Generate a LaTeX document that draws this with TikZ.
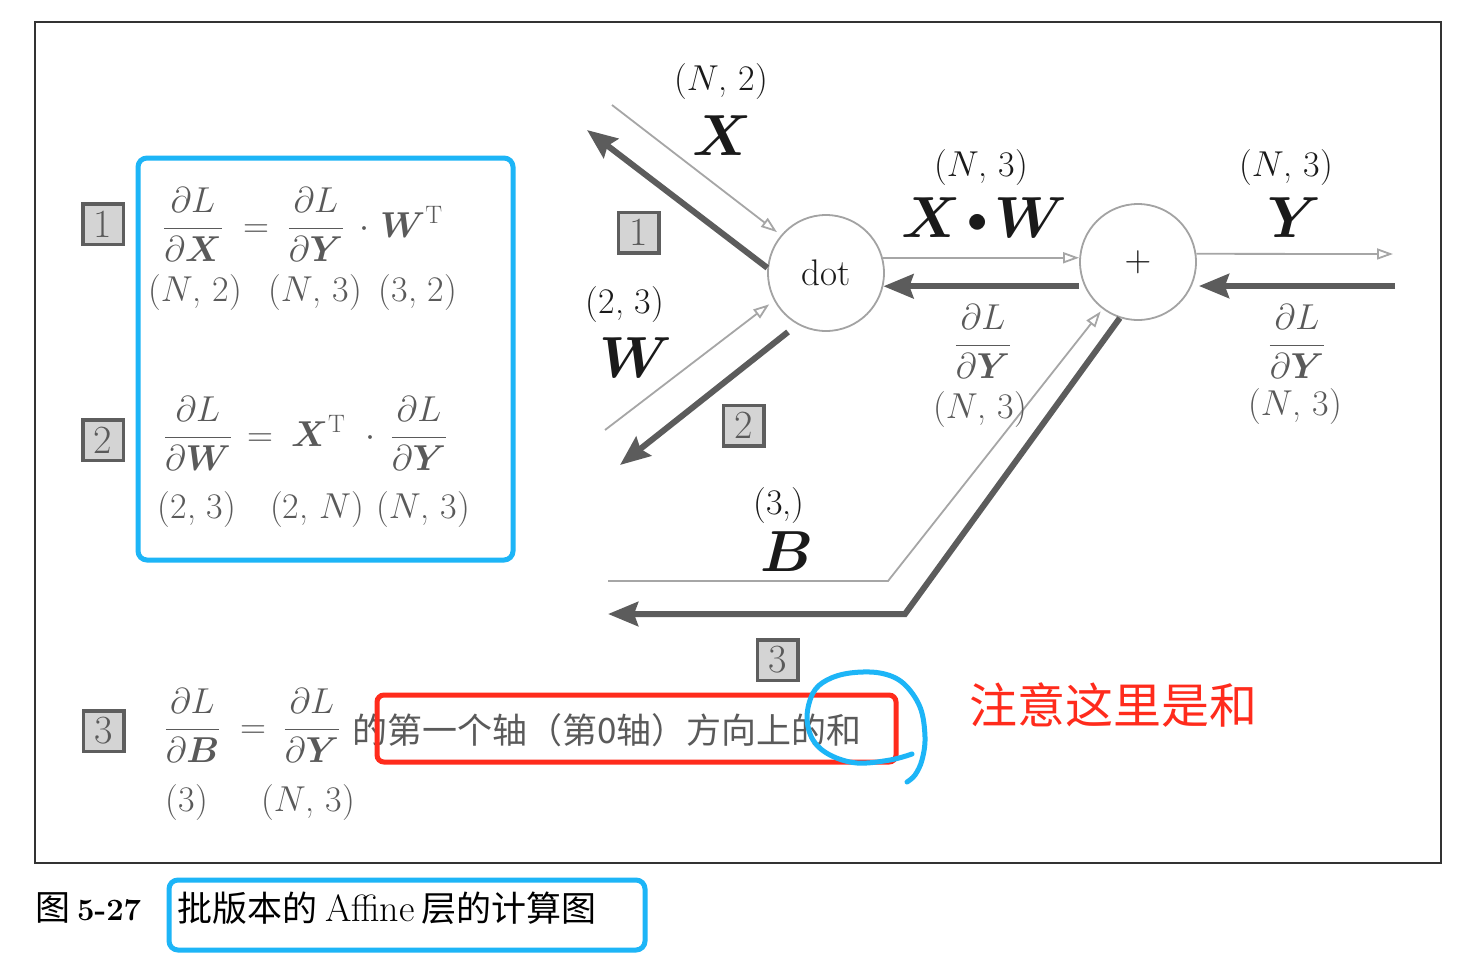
\RequirePackage{fix-cm}
\documentclass[tikz,border=0pt]{standalone}
\usepackage{amsmath,bm}
\usepackage{fontspec}
\newfontfamily\cjk{Noto Sans CJK SC}
\usetikzlibrary{arrows.meta}
\definecolor{eqgray}{HTML}{5A5A5A}
\definecolor{fwdc}{HTML}{A6A6A6}
\definecolor{backc}{HTML}{5C5C5C}
\definecolor{circc}{HTML}{A3A3A3}
\definecolor{boxfill}{HTML}{D4D4D4}
\definecolor{boxline}{HTML}{5E5E5E}
\definecolor{hlblue}{HTML}{1DB5F7}
\definecolor{hlred}{HTML}{FF2B1C}
\definecolor{ink}{HTML}{1A1A1A}
\begin{document}
\begin{tikzpicture}[x=1pt,y=-1pt,
  lbl/.style={inner sep=0pt, font=\fontsize{36}{40}\selectfont, text=ink},
  eq/.style={inner sep=0pt, font=\fontsize{36}{42}\selectfont, text=eqgray},
  shp/.style={inner sep=0pt, font=\fontsize{36}{40}\selectfont, text=eqgray},
  big/.style={inner sep=0pt, font=\fontsize{58}{60}\selectfont, text=ink},
  numbox/.style={draw=boxline, fill=boxfill, line width=3.5pt, minimum width=40.5pt, minimum height=40.5pt, inner sep=0pt, font=\fontsize{40}{42}\selectfont, text=eqgray},
  opnode/.style={circle, draw=circc, line width=1.8pt, minimum size=116pt, inner sep=0pt, font=\fontsize{37}{40}\selectfont, text=ink},
  fwdline/.style={draw=fwdc, line width=1.8pt, -{Triangle[open, length=16pt, width=11pt]}},
  backline/.style={draw=backc, line width=6pt, -{Stealth[length=30pt, width=24pt, inset=4pt]}},
  hl/.style={draw=hlblue, line width=5pt},
]
\useasboundingbox (0,0) rectangle (1480,962);
\fill[white] (0,0) rectangle (1480,962);
\draw[line width=2pt, draw=black!80] (35,22) rectangle (1441,863);

% ---------- graph ----------
\node[opnode] (dot) at (826,273) {dot};
\node[opnode] (plus) at (1138,262) {$+$};

\coordinate (xin) at (612,105);
\coordinate (xout) at (587,130);
\coordinate (win) at (605,430);
\coordinate (wout) at (620,465);
\coordinate (yout) at (1393,254);
\coordinate (yin) at (1395,286);
\coordinate (bin) at (608,581);
\coordinate (bc1) at (888,581);
\coordinate (bc2) at (905,614);
\coordinate (bout) at (608,614);

\draw[fwdline, shorten >=5pt] (xin) -- (dot.140);
\draw[backline] (dot.175) -- (xout);
\draw[fwdline, shorten >=6pt] (win) -- (dot.208);
\draw[backline, shorten <=12pt] (dot.241) -- (wout);
\draw[fwdline] (dot.15) -- (plus.west |- dot.15);
\draw[backline] (plus.west |- dot.-13) -- (dot.-13);
\draw[fwdline] (plus.8) -- (yout);
\draw[backline, shorten >=2pt] (yin) -- (plus.east |- yin);
\draw[fwdline, shorten >=3pt] (bin) -- (bc1) -- (plus.233);
\draw[backline] (plus.252) -- (bc2) -- (bout);

% labels
\node[lbl] (sx) at (721,82) {($N$, 2)};
\node[big, anchor=base] (lx) at (722,155) {$\bm X$};
\node[lbl] (sw) at (625,305) {(2, 3)};
\node[big, anchor=base] (lw) at (636,377) {$\bm W$};
\node[lbl] (sxw) at (981,168) {($N$, 3)};
\node[big, anchor=base] (lxw) at (984,237) {$\bm X\mkern2mu\raisebox{5pt}{$\scriptstyle\bullet$}\mkern2mu\bm W$};
\node[lbl] (sy) at (1286,168) {($N$, 3)};
\node[big, anchor=base] (ly) at (1294,237) {$\bm Y$};
\node[eq, anchor=base] (gm) at (983,354) {$\dfrac{\partial L}{\partial \bm Y}$};
\node[shp] (gms) at (980,410) {($N$, 3)};
\node[eq, anchor=base] (gr) at (1297,354) {$\dfrac{\partial L}{\partial \bm Y}$};
\node[shp] (grs) at (1295,407) {($N$, 3)};
\node[lbl] (sb) at (779,506) {(3,)};
\node[big, anchor=base] (lb) at (787,571) {$\bm B$};

\node[numbox] (n1) at (638.5,232.5) {1};
\node[numbox] (n2) at (743.5,425.5) {2};
\node[numbox] (n3) at (777.5,660) {3};

% ---------- equations ----------
\draw[hl, rounded corners=9pt] (138,158) rectangle (513,560);
\node[numbox] (m1) at (103,224) {1};
\node[numbox] (m2) at (103,440) {2};
\node[numbox] (m3) at (103.5,731) {3};

\node[eq, anchor=base] (e1a) at (193,237) {$\dfrac{\partial L}{\partial \bm X}$};
\node[eq, anchor=base] (e1b) at (256,237) {$=$};
\node[eq, anchor=base] (e1c) at (316,237) {$\dfrac{\partial L}{\partial \bm Y}$};
\node[eq, anchor=base] (e1d) at (364,237) {$\cdot$};
\node[eq, anchor=base west] (e1e) at (380,237) {$\bm W^{\mathrm T}$};
\node[shp] (s1a) at (195,293) {($N$, 2)};
\node[shp] (s1b) at (315,293) {($N$, 3)};
\node[shp] (s1c) at (418,293) {(3, 2)};

\node[eq, anchor=base] (e2a) at (198,446) {$\dfrac{\partial L}{\partial \bm W}$};
\node[eq, anchor=base] (e2b) at (260,446) {$=$};
\node[eq, anchor=base west] (e2c) at (291,446) {$\bm X^{\mathrm T}$};
\node[eq, anchor=base] (e2d) at (370,446) {$\cdot$};
\node[eq, anchor=base] (e2e) at (419,446) {$\dfrac{\partial L}{\partial \bm Y}$};
\node[shp] (s2a) at (197,510) {(2, 3)};
\node[shp] (s2b) at (317,510) {(2, $N$)};
\node[shp] (s2c) at (423,510) {($N$, 3)};

\node[eq, anchor=base] (e3a) at (192.5,738) {$\dfrac{\partial L}{\partial \bm B}$};
\node[eq, anchor=base] (e3b) at (253,738) {$=$};
\node[eq, anchor=base] (e3c) at (312,738) {$\dfrac{\partial L}{\partial \bm Y}$};
\node[inner sep=0pt, anchor=west, text=eqgray, font=\cjk\fontsize{35}{38}\selectfont] (e3t) at (352,730) {的第一个轴（第0轴）方向上的和};
\node[shp] (s3a) at (187,803) {(3)};
\node[shp] (s3b) at (308,803) {($N$, 3)};

% ---------- annotations ----------
\draw[draw=hlred, line width=5pt, rounded corners=7pt] (377,695) rectangle (896,762);
\draw[hl, line cap=round, line join=round] plot[smooth, tension=0.6] coordinates {
  (912,754) (890,760) (857,763) (830,755) (813,740) (807,717) (813,693) (827,680)
  (850,673) (880,673) (903,683) (920,707) (925,737) (922,760) (915,775) (907,782)};
\node[inner sep=0pt, text=hlred, font=\cjk\fontsize{48}{50}\selectfont] (note) at (1113,705) {注意这里是和};

% ---------- caption ----------
\node[inner sep=0pt, anchor=west, text=black, font=\fontsize{35}{36}\selectfont] (cap1) at (35,908) {{\cjk 图}\hspace{7pt}{\fontsize{31}{32}\selectfont\bfseries 5-27}};
\draw[hl, rounded corners=9pt] (169,880) rectangle (645,950);
\node[inner sep=0pt, anchor=west, text=black, font=\fontsize{35}{38}\selectfont] (cap2) at (177,908) {{\cjk 批版本的}\hspace{8pt}{\fontsize{38}{40}\selectfont Affine}\hspace{7pt}{\cjk 层的计算图}};
\end{tikzpicture}
\end{document}
